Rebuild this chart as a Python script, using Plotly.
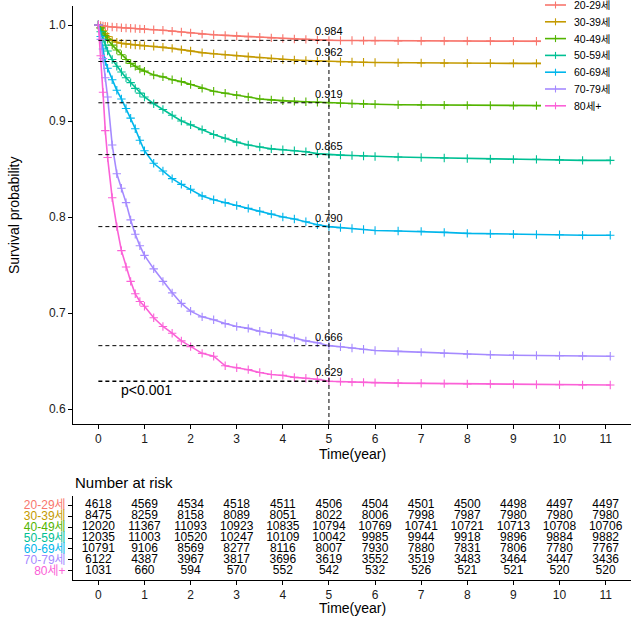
import plotly.graph_objects as go

# ---------------- data ----------------
groups = ["20-29세", "30-39세", "40-49세", "50-59세", "60-69세", "70-79세", "80세+"]
colors = ["#F8766D", "#C49A00", "#53B400", "#00C094", "#00B6EB", "#A58AFF", "#FB61D7"]

times = [0, 0.05, 0.1, 0.15, 0.2, 0.3, 0.4, 0.5, 0.6, 0.7, 0.8, 0.9, 1.0, 1.2, 1.4, 1.6, 1.8,
         2.0, 2.25, 2.5, 2.75, 3.0, 3.25, 3.5, 3.75, 4.0, 4.25, 4.5, 4.75, 5.0, 5.25, 5.5, 5.75,
         6.0, 6.5, 7.0, 7.5, 8.0, 8.5, 9.0, 9.5, 10.0, 10.5, 11.1]

surv_20 = [1.0, 0.9995, 0.999, 0.9987, 0.9984, 0.998, 0.9976, 0.9972, 0.9969, 0.9966, 0.9963,
           0.996, 0.9957, 0.9951, 0.9945, 0.9936, 0.9927, 0.9918, 0.9905, 0.9898, 0.9892, 0.9885,
           0.9879, 0.9872, 0.9866, 0.986, 0.9855, 0.985, 0.9845, 0.984, 0.9839, 0.9838, 0.9837,
           0.9836, 0.9835, 0.9834, 0.9833, 0.9833, 0.9832, 0.9832, 0.9831, 0.9831, 0.983, 0.983]
surv_30 = [1.0, 0.997, 0.994, 0.991, 0.988, 0.984, 0.982, 0.981, 0.9803, 0.9797, 0.9792, 0.9788,
           0.9784, 0.9777, 0.977, 0.9757, 0.9744, 0.9729, 0.9712, 0.97, 0.969, 0.968, 0.967, 0.966,
           0.965, 0.964, 0.9635, 0.963, 0.9625, 0.962, 0.9617, 0.9615, 0.9612, 0.961, 0.9607, 0.9605,
           0.9603, 0.9602, 0.9601, 0.96, 0.96, 0.9599, 0.9599, 0.9598]
surv_40 = [1.0, 0.997, 0.993, 0.989, 0.985, 0.979, 0.974, 0.969, 0.964, 0.96, 0.957, 0.954, 0.952,
           0.948, 0.946, 0.943, 0.941, 0.938, 0.934, 0.931, 0.929, 0.927, 0.925, 0.923, 0.922, 0.921,
           0.9205, 0.92, 0.9195, 0.919, 0.9185, 0.918, 0.9178, 0.9175, 0.917, 0.9168, 0.9165, 0.9163,
           0.9162, 0.916, 0.916, 0.9159, 0.9158, 0.9157]
surv_50 = [1.0, 0.993, 0.985, 0.979, 0.973, 0.964, 0.957, 0.951, 0.945, 0.94, 0.934, 0.929, 0.925,
           0.918, 0.912, 0.906, 0.9, 0.896, 0.891, 0.886, 0.882, 0.878, 0.875, 0.873, 0.871, 0.87,
           0.869, 0.868, 0.866, 0.865, 0.8645, 0.864, 0.8635, 0.863, 0.8625, 0.862, 0.8615, 0.861,
           0.8605, 0.86, 0.86, 0.8595, 0.859, 0.859]
surv_60 = [1.0, 0.988, 0.975, 0.962, 0.955, 0.943, 0.932, 0.923, 0.913, 0.903, 0.892, 0.88, 0.869,
           0.856, 0.848, 0.84, 0.834, 0.829, 0.822, 0.818, 0.815, 0.812, 0.809, 0.806, 0.803, 0.8,
           0.798, 0.795, 0.792, 0.79, 0.789, 0.788, 0.787, 0.786, 0.7855, 0.785, 0.784, 0.783,
           0.7825, 0.782, 0.7818, 0.7815, 0.781, 0.781]
surv_70 = [1.0, 0.985, 0.965, 0.945, 0.925, 0.875, 0.845, 0.83, 0.815, 0.797, 0.782, 0.77, 0.76,
           0.746, 0.733, 0.721, 0.71, 0.702, 0.696, 0.693, 0.689, 0.686, 0.684, 0.681, 0.679, 0.677,
           0.674, 0.671, 0.669, 0.666, 0.6648, 0.6635, 0.6622, 0.661, 0.66, 0.659, 0.658, 0.657,
           0.6565, 0.656, 0.6558, 0.6555, 0.6552, 0.655]
surv_80 = [1.0, 0.968, 0.93, 0.89, 0.862, 0.82, 0.79, 0.765, 0.748, 0.733, 0.72, 0.712, 0.707,
           0.695, 0.686, 0.679, 0.671, 0.665, 0.658, 0.655, 0.645, 0.643, 0.641, 0.638, 0.636, 0.635,
           0.633, 0.632, 0.631, 0.629, 0.6285, 0.628, 0.6278, 0.6275, 0.627, 0.6268, 0.6265, 0.6262,
           0.626, 0.6258, 0.6255, 0.6253, 0.6251, 0.625]
survs = [surv_20, surv_30, surv_40, surv_50, surv_60, surv_70, surv_80]

year5_time = 5
year5_surv = [0.984, 0.962, 0.919, 0.865, 0.790, 0.666, 0.629]
p_text = "p<0.001"

risk_times = list(range(12))
risk_20 = [4618, 4569, 4534, 4518, 4511, 4506, 4504, 4501, 4500, 4498, 4497, 4497]
risk_30 = [8475, 8259, 8158, 8089, 8051, 8022, 8006, 7998, 7987, 7980, 7980, 7980]
risk_40 = [12020, 11367, 11093, 10923, 10835, 10794, 10769, 10741, 10721, 10713, 10708, 10706]
risk_50 = [12035, 11003, 10520, 10247, 10109, 10042, 9985, 9944, 9918, 9896, 9884, 9882]
risk_60 = [10791, 9106, 8569, 8277, 8116, 8007, 7930, 7880, 7831, 7806, 7780, 7767]
risk_70 = [6122, 4387, 3967, 3817, 3696, 3619, 3552, 3519, 3483, 3464, 3447, 3436]
risk_80 = [1031, 660, 594, 570, 552, 542, 532, 526, 521, 521, 520, 520]
risks = [risk_20, risk_30, risk_40, risk_50, risk_60, risk_70, risk_80]

# ---------------- figure ----------------
FONT = "Liberation Sans, Arial, Noto Sans CJK KR, sans-serif"
W, H = 640, 624
ML, MR = 73, 9
PW = W - ML - MR
x_range = [-0.55, 11.55]
y_range = [0.5844, 1.0198]


def px_x(p):
    return (p - ML) / PW


def px_y(p):
    return 1 - p / H


fig = go.Figure()

for g, c, s in zip(groups, colors, survs):
    fig.add_trace(go.Scatter(
        x=times, y=s, name=g, mode="lines+markers",
        line=dict(color=c, width=1.6),
        marker=dict(symbol="cross-thin", size=6, line=dict(color=c, width=1.1)),
        xaxis="x", yaxis="y", hoverinfo="skip", showlegend=False))

n = len(groups)
for i, (g, r) in enumerate(zip(groups, risks)):
    fig.add_trace(go.Scatter(
        x=risk_times, y=[n - 1 - i] * len(risk_times), text=[str(v) for v in r],
        mode="text", textfont=dict(family=FONT, size=12, color="black"),
        showlegend=False, hoverinfo="skip", xaxis="x2", yaxis="y2"))

shapes = []
for k, v in enumerate(year5_surv):
    shapes.append(dict(type="line", xref="x", yref="y", x0=0, x1=year5_time, y0=v, y1=v,
                       line=dict(color="black", width=1.5 if k == len(year5_surv) - 1 else 1,
                                 dash="4px,3px")))
shapes.append(dict(type="line", xref="x", yref="y", x0=year5_time, x1=year5_time,
                   y0=y_range[0], y1=max(year5_surv),
                   line=dict(color="black", width=1, dash="4px,3px")))

annotations = []
for v in year5_surv:
    annotations.append(dict(x=year5_time, y=v, xref="x", yref="y", text=f"{v:.3f}",
                            xanchor="center", yanchor="middle",
                            showarrow=False, yshift=9, font=dict(family=FONT, size=11, color="black")))
annotations.append(dict(x=0.45, y=0.62, xref="x", yref="y", text=p_text, xanchor="left",
                        yanchor="middle",
                        showarrow=False, font=dict(family=FONT, size=14, color="black")))
annotations.append(dict(x=0.5, y=px_y(454), xref="paper", yref="paper", text="Time(year)",
                        xanchor="center", yanchor="middle",
                        showarrow=False, font=dict(family=FONT, size=14, color="black")))
annotations.append(dict(x=0.5, y=px_y(608), xref="paper", yref="paper", text="Time(year)",
                        xanchor="center", yanchor="middle",
                        showarrow=False, font=dict(family=FONT, size=14, color="black")))
annotations.append(dict(x=0, y=px_y(482), xref="paper", yref="paper", text="Number at risk",
                        xanchor="left", yanchor="middle",
                        showarrow=False, font=dict(family=FONT, size=15, color="black")))
annotations.append(dict(x=px_x(14), y=px_y(215), xref="paper", yref="paper",
                        text="Survival probability", textangle=-90, showarrow=False,
                        xanchor="center", yanchor="middle",
                        font=dict(family=FONT, size=14, color="black")))

# ---- legend (drawn as a white box over the plot, like the reference) ----
leg_top, leg_step = 5, 16.8
shapes.append(dict(type="rect", xref="paper", yref="paper", layer="above",
                   x0=px_x(541), x1=px_x(640), y0=px_y(113), y1=px_y(0),
                   fillcolor="white", line=dict(width=0)))
for i, (g, c) in enumerate(zip(groups, colors)):
    yy = leg_top + i * leg_step
    shapes.append(dict(type="line", xref="paper", yref="paper", layer="above",
                       x0=px_x(545), x1=px_x(566), y0=px_y(yy), y1=px_y(yy),
                       line=dict(color=c, width=1.6)))
    shapes.append(dict(type="line", xref="paper", yref="paper", layer="above",
                       x0=px_x(555.5), x1=px_x(555.5), y0=px_y(yy - 3.5), y1=px_y(yy + 3.5),
                       line=dict(color=c, width=1.1)))
    annotations.append(dict(x=px_x(572), y=px_y(yy), xref="paper", yref="paper", text=g,
                            xanchor="left", yanchor="middle", showarrow=False,
                            font=dict(family=FONT, size=10.5, color="black")))

axis_common = dict(showgrid=False, zeroline=False, showline=True, linecolor="black", linewidth=1,
                   ticks="outside", ticklen=4, tickcolor="black",
                   tickfont=dict(family=FONT, size=12, color="#1a1a1a"))

ticktext2 = [f'<span style="color:{c}">{g}</span>' for g, c in zip(groups, colors)]

fig.update_layout(
    width=W, height=H,
    margin=dict(l=ML, r=MR, t=0, b=0),
    paper_bgcolor="white", plot_bgcolor="white",
    font=dict(family=FONT, size=12, color="black"),
    showlegend=False,
    xaxis=dict(domain=[0, 1], range=x_range, tickvals=risk_times, anchor="y", **axis_common),
    yaxis=dict(domain=[px_y(424), px_y(6)], range=y_range,
               tickvals=[0.6, 0.7, 0.8, 0.9, 1.0], tickformat=".1f", anchor="x", **axis_common),
    xaxis2=dict(domain=[0, 1], range=x_range, tickvals=risk_times, anchor="y2", **axis_common),
    yaxis2=dict(domain=[px_y(580), px_y(496)], range=[-0.82, n - 1 + 0.82],
                tickvals=list(range(n - 1, -1, -1)), ticktext=ticktext2, anchor="x2",
                **axis_common),
    shapes=shapes, annotations=annotations,
)

fig.write_html("out.html")
